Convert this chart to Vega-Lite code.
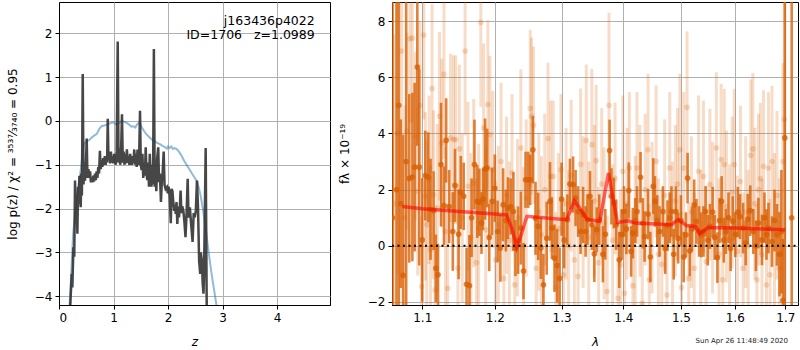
{
"$schema": "https://vega.github.io/schema/vega-lite/v6.json",
"padding": {"left": 5, "top": 1, "right": 2, "bottom": 0},
"spacing": 6,
"config": {
  "font": "DejaVu Sans",
  "view": {"stroke": "black", "strokeWidth": 1},
  "axis": {"labelFont": "DejaVu Sans", "labelFontSize": 12, "labelColor": "black", "tickColor": "black", "tickSize": 4, "domainColor": "black", "gridColor": "#b0b0b0", "gridWidth": 1, "titleFont": "DejaVu Sans", "titleFontSize": 12, "titleFontWeight": "normal", "titleColor": "black", "labelPadding": 3},
  "axisX": {"titlePadding": 13}
},
"datasets": {
  "pz": [{"z":0.2,"p":-4.4},{"z":0.233,"p":-3.49},{"z":0.245,"p":-3.8},{"z":0.264,"p":-2.88},{"z":0.28,"p":-3.1},{"z":0.294,"p":-1.36},{"z":0.31,"p":-2.1},{"z":0.322,"p":-1.8},{"z":0.337,"p":-2.57},{"z":0.35,"p":-1.5},{"z":0.362,"p":-1.9},{"z":0.374,"p":-1.25},{"z":0.386,"p":-1.6},{"z":0.398,"p":-1.97},{"z":0.41,"p":-1.2},{"z":0.42,"p":-1.7},{"z":0.435,"p":1.07},{"z":0.45,"p":-1.45},{"z":0.462,"p":-0.95},{"z":0.477,"p":-1.36},{"z":0.493,"p":-1.0},{"z":0.508,"p":-0.4},{"z":0.522,"p":-1.3},{"z":0.54,"p":-1.1},{"z":0.555,"p":-1.3},{"z":0.57,"p":-1.15},{"z":0.585,"p":-1.4},{"z":0.6,"p":-1.3},{"z":0.615,"p":-1.4},{"z":0.63,"p":-1.25},{"z":0.645,"p":-1.38},{"z":0.66,"p":-1.2},{"z":0.675,"p":-1.35},{"z":0.69,"p":-1.15},{"z":0.705,"p":-1.3},{"z":0.72,"p":-1.05},{"z":0.735,"p":-1.2},{"z":0.75,"p":-0.68},{"z":0.765,"p":-1.1},{"z":0.78,"p":-0.9},{"z":0.795,"p":-1.05},{"z":0.81,"p":-0.85},{"z":0.825,"p":-1.0},{"z":0.84,"p":-0.8},{"z":0.855,"p":-1.0},{"z":0.87,"p":-0.8},{"z":0.882,"p":-0.95},{"z":0.894,"p":0.05},{"z":0.908,"p":-0.9},{"z":0.922,"p":-0.75},{"z":0.937,"p":-0.97},{"z":0.952,"p":-0.7},{"z":0.967,"p":-0.95},{"z":0.982,"p":-0.8},{"z":0.997,"p":-0.97},{"z":1.012,"p":-0.75},{"z":1.027,"p":-0.92},{"z":1.042,"p":-1.0},{"z":1.057,"p":-0.7},{"z":1.077,"p":1.81},{"z":1.092,"p":-0.95},{"z":1.107,"p":-0.62},{"z":1.122,"p":-1.0},{"z":1.137,"p":-0.75},{"z":1.155,"p":0.15},{"z":1.17,"p":-0.95},{"z":1.185,"p":-0.7},{"z":1.2,"p":-1.0},{"z":1.215,"p":-0.75},{"z":1.23,"p":-0.97},{"z":1.245,"p":-0.65},{"z":1.26,"p":-0.95},{"z":1.275,"p":-0.8},{"z":1.29,"p":-1.0},{"z":1.305,"p":-0.75},{"z":1.32,"p":-0.92},{"z":1.335,"p":-1.0},{"z":1.35,"p":-0.8},{"z":1.365,"p":-0.97},{"z":1.38,"p":-0.65},{"z":1.395,"p":-1.0},{"z":1.41,"p":-0.75},{"z":1.425,"p":-1.05},{"z":1.44,"p":-0.65},{"z":1.455,"p":-1.0},{"z":1.47,"p":-0.8},{"z":1.486,"p":0.23},{"z":1.5,"p":-1.0},{"z":1.515,"p":-1.12},{"z":1.53,"p":-0.75},{"z":1.545,"p":-1.3},{"z":1.56,"p":-1.0},{"z":1.575,"p":-1.25},{"z":1.59,"p":-0.6},{"z":1.605,"p":-1.2},{"z":1.62,"p":-1.35},{"z":1.635,"p":-0.95},{"z":1.65,"p":-1.5},{"z":1.665,"p":-0.75},{"z":1.68,"p":-1.2},{"z":1.695,"p":-1.5},{"z":1.71,"p":-1.0},{"z":1.725,"p":-1.45},{"z":1.74,"p":1.64},{"z":1.755,"p":-1.5},{"z":1.77,"p":-1.05},{"z":1.785,"p":-1.6},{"z":1.8,"p":-0.85},{"z":1.82,"p":-0.6},{"z":1.835,"p":-1.4},{"z":1.85,"p":-1.2},{"z":1.87,"p":-1.85},{"z":1.885,"p":-1.4},{"z":1.9,"p":-1.2},{"z":1.92,"p":-0.7},{"z":1.935,"p":-1.45},{"z":1.955,"p":-1.55},{"z":1.98,"p":-1.51},{"z":1.995,"p":-1.65},{"z":2.01,"p":-1.5},{"z":2.03,"p":-1.7},{"z":2.05,"p":-2.33},{"z":2.065,"p":-1.55},{"z":2.08,"p":-1.6},{"z":2.1,"p":-1.9},{"z":2.115,"p":-2.05},{"z":2.13,"p":-1.95},{"z":2.14,"p":-2.12},{"z":2.155,"p":-1.85},{"z":2.17,"p":-2.35},{"z":2.185,"p":-1.95},{"z":2.2,"p":-2.2},{"z":2.215,"p":-2.0},{"z":2.23,"p":-1.59},{"z":2.245,"p":-2.1},{"z":2.26,"p":-1.95},{"z":2.28,"p":-2.04},{"z":2.3,"p":-2.3},{"z":2.32,"p":-2.65},{"z":2.34,"p":-2.1},{"z":2.36,"p":-1.32},{"z":2.375,"p":-2.2},{"z":2.39,"p":-2.1},{"z":2.4,"p":-1.97},{"z":2.42,"p":-2.3},{"z":2.45,"p":-2.76},{"z":2.47,"p":-2.1},{"z":2.49,"p":-2.2},{"z":2.51,"p":-2.04},{"z":2.53,"p":-1.36},{"z":2.55,"p":-2.0},{"z":2.57,"p":-3.2},{"z":2.59,"p":-3.49},{"z":2.6,"p":-3.0},{"z":2.62,"p":-3.18},{"z":2.635,"p":-3.7},{"z":2.65,"p":-3.94},{"z":2.66,"p":-3.5},{"z":2.69,"p":-0.62},{"z":2.71,"p":-4.4}],
  "pzfit": [{"z":0.19,"p":-4.3},{"z":0.22,"p":-3.6},{"z":0.26,"p":-2.57},{"z":0.29,"p":-2.2},{"z":0.325,"p":-1.82},{"z":0.36,"p":-1.45},{"z":0.385,"p":-1.25},{"z":0.41,"p":-1.0},{"z":0.435,"p":-0.7},{"z":0.46,"p":-0.52},{"z":0.5,"p":-0.47},{"z":0.55,"p":-0.44},{"z":0.6,"p":-0.38},{"z":0.65,"p":-0.33},{"z":0.69,"p":-0.3},{"z":0.74,"p":-0.18},{"z":0.78,"p":-0.12},{"z":0.81,"p":-0.11},{"z":0.85,"p":-0.1},{"z":0.9,"p":-0.07},{"z":0.95,"p":-0.05},{"z":1.0,"p":-0.03},{"z":1.05,"p":-0.08},{"z":1.1,"p":-0.05},{"z":1.15,"p":0.0},{"z":1.2,"p":-0.02},{"z":1.25,"p":-0.05},{"z":1.3,"p":-0.1},{"z":1.33,"p":-0.13},{"z":1.37,"p":-0.12},{"z":1.4,"p":-0.15},{"z":1.43,"p":-0.08},{"z":1.46,"p":-0.05},{"z":1.49,"p":-0.07},{"z":1.52,"p":-0.15},{"z":1.56,"p":-0.23},{"z":1.6,"p":-0.3},{"z":1.65,"p":-0.36},{"z":1.7,"p":-0.42},{"z":1.75,"p":-0.46},{"z":1.8,"p":-0.5},{"z":1.85,"p":-0.53},{"z":1.9,"p":-0.57},{"z":1.95,"p":-0.6},{"z":1.98,"p":-0.63},{"z":2.0,"p":-0.58},{"z":2.03,"p":-0.62},{"z":2.06,"p":-0.58},{"z":2.09,"p":-0.64},{"z":2.12,"p":-0.62},{"z":2.16,"p":-0.64},{"z":2.2,"p":-0.7},{"z":2.25,"p":-0.8},{"z":2.3,"p":-0.92},{"z":2.35,"p":-1.02},{"z":2.4,"p":-1.12},{"z":2.45,"p":-1.22},{"z":2.5,"p":-1.32},{"z":2.53,"p":-1.38},{"z":2.56,"p":-1.5},{"z":2.6,"p":-1.72},{"z":2.65,"p":-2.1},{"z":2.7,"p":-2.55},{"z":2.75,"p":-3.05},{"z":2.8,"p":-3.5},{"z":2.85,"p":-3.9},{"z":2.9,"p":-4.3}],
  "ann": [{"z":4.69,"p":2.285,"t":"j163436p4022"},{"z":4.69,"p":1.966,"t":"ID=1706\u00a0\u00a0\u00a0z=1.0989"}],
  "dk": [{"l":1.0615,"f":1.0,"e":12},{"l":1.0665,"f":2.0,"e":12},{"l":1.0695,"f":5.0,"e":9},{"l":1.072,"f":1.5,"e":3},{"l":1.075,"f":-1.05,"e":5},{"l":1.079,"f":3.0,"e":12},{"l":1.083,"f":2.4,"e":3},{"l":1.087,"f":2.45,"e":3},{"l":1.09,"f":2.8,"e":3},{"l":1.0935,"f":6.36,"e":2.8},{"l":1.096,"f":2.8,"e":3.5},{"l":1.1,"f":0.21,"e":2.2},{"l":1.104,"f":2.5,"e":1.6},{"l":1.108,"f":2.44,"e":1.6},{"l":1.111,"f":1.3,"e":1.8},{"l":1.115,"f":1.25,"e":1.4},{"l":1.118,"f":-0.8,"e":1.2},{"l":1.121,"f":-1.03,"e":1.1},{"l":1.125,"f":2.89,"e":2.2},{"l":1.129,"f":1.43,"e":1.4},{"l":1.132,"f":3.75,"e":1.5},{"l":1.136,"f":1.4,"e":1.3},{"l":1.141,"f":0.51,"e":1.4},{"l":1.144,"f":2.15,"e":1.3},{"l":1.149,"f":0.41,"e":1.6},{"l":1.152,"f":1.9,"e":1.3},{"l":1.156,"f":1.76,"e":1.2},{"l":1.16,"f":-1.37,"e":1.3},{"l":1.164,"f":-1.42,"e":1.8},{"l":1.167,"f":1.0,"e":1.4},{"l":1.171,"f":2.89,"e":1.6},{"l":1.175,"f":1.58,"e":1.3},{"l":1.178,"f":1.55,"e":1.2},{"l":1.181,"f":0.81,"e":1.1},{"l":1.183,"f":1.66,"e":1.1},{"l":1.186,"f":2.73,"e":1.8},{"l":1.189,"f":2.77,"e":1.4},{"l":1.192,"f":0.3,"e":1.2},{"l":1.196,"f":1.58,"e":1.2},{"l":1.2,"f":2.05,"e":1.2},{"l":1.204,"f":0.51,"e":1.1},{"l":1.208,"f":-0.08,"e":1.2},{"l":1.212,"f":1.46,"e":1.3},{"l":1.216,"f":0.9,"e":1.1},{"l":1.219,"f":1.34,"e":1.1},{"l":1.223,"f":1.4,"e":1.0},{"l":1.227,"f":1.22,"e":1.4},{"l":1.23,"f":-0.08,"e":1.0},{"l":1.234,"f":0.2,"e":1.2},{"l":1.238,"f":0.63,"e":1.3},{"l":1.242,"f":-0.9,"e":1.0},{"l":1.245,"f":2.35,"e":1.0},{"l":1.249,"f":2.35,"e":1.0},{"l":1.252,"f":2.35,"e":0.9},{"l":1.256,"f":3.42,"e":1.2},{"l":1.26,"f":0.98,"e":1.3},{"l":1.264,"f":0.69,"e":1.2},{"l":1.268,"f":-0.08,"e":1.1},{"l":1.272,"f":-1.39,"e":1.1},{"l":1.277,"f":0.27,"e":1.3},{"l":1.282,"f":1.58,"e":1.4},{"l":1.285,"f":0.63,"e":1.1},{"l":1.289,"f":-0.44,"e":1.2},{"l":1.293,"f":-0.7,"e":1.3},{"l":1.297,"f":-1.16,"e":1.1},{"l":1.3,"f":1.66,"e":1.3},{"l":1.304,"f":0.2,"e":1.0},{"l":1.309,"f":0.93,"e":0.9},{"l":1.313,"f":2.2,"e":0.9},{"l":1.318,"f":2.18,"e":1.0},{"l":1.322,"f":1.7,"e":1.0},{"l":1.326,"f":1.22,"e":0.9},{"l":1.33,"f":0.51,"e":0.8},{"l":1.334,"f":1.1,"e":1.0},{"l":1.338,"f":0.51,"e":0.9},{"l":1.341,"f":0.93,"e":0.9},{"l":1.345,"f":1.76,"e":0.9},{"l":1.348,"f":0.75,"e":0.9},{"l":1.352,"f":-0.29,"e":1.0},{"l":1.356,"f":0.57,"e":0.8},{"l":1.36,"f":0.93,"e":0.9},{"l":1.366,"f":-0.3,"e":1.0},{"l":1.37,"f":0.41,"e":0.9},{"l":1.377,"f":3.39,"e":1.1},{"l":1.38,"f":1.76,"e":1.0},{"l":1.384,"f":1.52,"e":0.9},{"l":1.388,"f":0.75,"e":0.9},{"l":1.393,"f":-0.5,"e":1.0},{"l":1.397,"f":0.4,"e":0.9},{"l":1.401,"f":1.22,"e":0.9},{"l":1.405,"f":0.6,"e":0.9},{"l":1.409,"f":1.97,"e":1.0},{"l":1.413,"f":-0.2,"e":0.9},{"l":1.416,"f":0.45,"e":0.9},{"l":1.42,"f":0.9,"e":0.8},{"l":1.423,"f":1.22,"e":0.9},{"l":1.429,"f":2.44,"e":0.9},{"l":1.433,"f":0.8,"e":0.9},{"l":1.436,"f":0.33,"e":0.9},{"l":1.442,"f":1.13,"e":0.9},{"l":1.446,"f":-0.4,"e":0.9},{"l":1.451,"f":2.12,"e":1.0},{"l":1.454,"f":1.58,"e":0.9},{"l":1.458,"f":0.9,"e":0.9},{"l":1.462,"f":0.51,"e":0.9},{"l":1.468,"f":1.22,"e":0.9},{"l":1.472,"f":-0.1,"e":0.9},{"l":1.476,"f":0.72,"e":0.9},{"l":1.48,"f":1.0,"e":0.9},{"l":1.483,"f":1.22,"e":0.9},{"l":1.487,"f":-0.3,"e":0.9},{"l":1.491,"f":1.22,"e":0.9},{"l":1.495,"f":0.27,"e":0.9},{"l":1.5,"f":0.9,"e":0.9},{"l":1.505,"f":-0.4,"e":0.9},{"l":1.509,"f":0.39,"e":0.8},{"l":1.512,"f":2.41,"e":0.9},{"l":1.516,"f":-0.18,"e":0.9},{"l":1.52,"f":0.6,"e":0.8},{"l":1.524,"f":1.46,"e":0.9},{"l":1.528,"f":0.87,"e":0.8},{"l":1.533,"f":0.51,"e":0.9},{"l":1.537,"f":0.39,"e":0.8},{"l":1.541,"f":0.51,"e":0.9},{"l":1.545,"f":1.22,"e":0.9},{"l":1.549,"f":0.2,"e":0.9},{"l":1.553,"f":0.69,"e":0.8},{"l":1.558,"f":1.2,"e":0.9},{"l":1.562,"f":0.3,"e":0.8},{"l":1.567,"f":-0.42,"e":0.9},{"l":1.571,"f":0.9,"e":0.8},{"l":1.575,"f":1.58,"e":0.9},{"l":1.579,"f":0.2,"e":0.8},{"l":1.583,"f":0.51,"e":0.8},{"l":1.588,"f":1.0,"e":0.9},{"l":1.592,"f":-0.1,"e":0.8},{"l":1.596,"f":0.87,"e":0.9},{"l":1.601,"f":0.4,"e":0.8},{"l":1.606,"f":1.2,"e":0.9},{"l":1.61,"f":1.04,"e":0.8},{"l":1.616,"f":0.63,"e":0.9},{"l":1.621,"f":0.1,"e":0.8},{"l":1.625,"f":0.95,"e":0.9},{"l":1.63,"f":1.25,"e":0.9},{"l":1.636,"f":0.51,"e":0.8},{"l":1.641,"f":0.0,"e":0.9},{"l":1.646,"f":0.81,"e":0.9},{"l":1.653,"f":0.21,"e":0.9},{"l":1.658,"f":1.0,"e":0.9},{"l":1.662,"f":0.4,"e":0.9},{"l":1.666,"f":0.63,"e":0.9},{"l":1.673,"f":0.15,"e":0.9},{"l":1.678,"f":0.9,"e":1.1},{"l":1.683,"f":0.39,"e":1.1},{"l":1.688,"f":-0.3,"e":1.5},{"l":1.692,"f":0.5,"e":2.2},{"l":1.695,"f":-1.95,"e":2.2},{"l":1.699,"f":3.84,"e":10},{"l":1.713,"f":1.0,"e":12}],
  "lt": [{"l":1.063,"f":1.5,"e":6},{"l":1.068,"f":4.0,"e":5},{"l":1.073,"f":6.93,"e":3},{"l":1.077,"f":1.0,"e":4},{"l":1.08,"f":4.08,"e":3.5},{"l":1.084,"f":7.37,"e":3},{"l":1.087,"f":7.4,"e":3},{"l":1.091,"f":3.9,"e":3},{"l":1.094,"f":1.94,"e":3},{"l":1.097,"f":5.0,"e":3},{"l":1.099,"f":-1.45,"e":2.5},{"l":1.102,"f":7.5,"e":3},{"l":1.104,"f":1.76,"e":3},{"l":1.106,"f":0.75,"e":3},{"l":1.109,"f":2.35,"e":3},{"l":1.111,"f":-0.14,"e":3},{"l":1.113,"f":5.6,"e":3},{"l":1.115,"f":1.82,"e":3},{"l":1.117,"f":-1.57,"e":3},{"l":1.12,"f":1.34,"e":3},{"l":1.123,"f":4.61,"e":3},{"l":1.126,"f":3.66,"e":3},{"l":1.129,"f":6.1,"e":3},{"l":1.131,"f":0.51,"e":3},{"l":1.134,"f":-1.51,"e":3},{"l":1.138,"f":3.84,"e":3},{"l":1.142,"f":3.78,"e":3},{"l":1.145,"f":3.78,"e":3},{"l":1.148,"f":-0.8,"e":3},{"l":1.15,"f":3.45,"e":3},{"l":1.154,"f":1.0,"e":3},{"l":1.158,"f":6.93,"e":3},{"l":1.162,"f":2.12,"e":3},{"l":1.166,"f":0.3,"e":3},{"l":1.17,"f":2.23,"e":3},{"l":1.174,"f":-0.6,"e":3},{"l":1.177,"f":0.63,"e":3},{"l":1.18,"f":7.95,"e":3},{"l":1.184,"f":4.2,"e":3},{"l":1.187,"f":0.57,"e":3},{"l":1.19,"f":5.03,"e":3},{"l":1.193,"f":3.96,"e":2.8},{"l":1.197,"f":2.71,"e":2.8},{"l":1.201,"f":-0.5,"e":2.8},{"l":1.205,"f":0.75,"e":2.8},{"l":1.209,"f":3.0,"e":2.8},{"l":1.213,"f":-1.16,"e":2.8},{"l":1.217,"f":1.8,"e":2.8},{"l":1.221,"f":0.2,"e":2.8},{"l":1.225,"f":2.6,"e":2.8},{"l":1.229,"f":-1.39,"e":2.8},{"l":1.233,"f":1.0,"e":2.8},{"l":1.238,"f":3.48,"e":2.8},{"l":1.242,"f":0.0,"e":2.8},{"l":1.246,"f":1.7,"e":2.8},{"l":1.252,"f":4.89,"e":2.8},{"l":1.254,"f":4.61,"e":2.8},{"l":1.257,"f":4.29,"e":2.8},{"l":1.261,"f":-0.8,"e":2.8},{"l":1.265,"f":1.2,"e":2.8},{"l":1.269,"f":0.39,"e":2.8},{"l":1.274,"f":2.0,"e":2.7},{"l":1.279,"f":3.82,"e":2.7},{"l":1.283,"f":2.47,"e":2.7},{"l":1.287,"f":2.47,"e":2.7},{"l":1.291,"f":-1.5,"e":2.7},{"l":1.295,"f":0.6,"e":2.7},{"l":1.299,"f":2.7,"e":2.7},{"l":1.303,"f":-1.03,"e":2.7},{"l":1.307,"f":1.5,"e":2.7},{"l":1.311,"f":0.0,"e":2.7},{"l":1.315,"f":2.5,"e":2.7},{"l":1.32,"f":-0.5,"e":2.7},{"l":1.326,"f":-1.09,"e":2.7},{"l":1.33,"f":2.9,"e":2.7},{"l":1.334,"f":1.2,"e":2.7},{"l":1.339,"f":3.75,"e":2.7},{"l":1.343,"f":0.3,"e":2.7},{"l":1.348,"f":3.6,"e":2.7},{"l":1.352,"f":1.6,"e":2.7},{"l":1.355,"f":3.03,"e":2.7},{"l":1.359,"f":-0.6,"e":2.7},{"l":1.364,"f":2.2,"e":2.7},{"l":1.368,"f":0.8,"e":2.7},{"l":1.373,"f":-1.63,"e":2.7},{"l":1.376,"f":5.0,"e":3.3},{"l":1.382,"f":0.2,"e":2.7},{"l":1.386,"f":2.4,"e":2.7},{"l":1.391,"f":-1.87,"e":2.7},{"l":1.395,"f":-0.68,"e":2.7},{"l":1.399,"f":2.65,"e":2.7},{"l":1.402,"f":-1.69,"e":2.7},{"l":1.406,"f":1.5,"e":2.7},{"l":1.41,"f":2.77,"e":2.7},{"l":1.416,"f":-1.42,"e":2.7},{"l":1.42,"f":0.5,"e":2.7},{"l":1.423,"f":2.77,"e":2.7},{"l":1.428,"f":1.6,"e":2.7},{"l":1.432,"f":-2.05,"e":2.7},{"l":1.437,"f":2.0,"e":2.7},{"l":1.442,"f":3.42,"e":2.7},{"l":1.444,"f":-1.21,"e":2.7},{"l":1.449,"f":1.0,"e":2.7},{"l":1.456,"f":3.01,"e":2.7},{"l":1.46,"f":-0.3,"e":2.7},{"l":1.466,"f":-0.66,"e":2.7},{"l":1.471,"f":1.8,"e":2.7},{"l":1.475,"f":-1.75,"e":2.7},{"l":1.48,"f":2.77,"e":2.7},{"l":1.485,"f":0.3,"e":2.7},{"l":1.49,"f":1.6,"e":2.7},{"l":1.494,"f":2.2,"e":2.7},{"l":1.498,"f":3.42,"e":2.7},{"l":1.501,"f":-1.49,"e":2.7},{"l":1.505,"f":2.77,"e":2.7},{"l":1.511,"f":4.93,"e":2.7},{"l":1.514,"f":-1.16,"e":2.7},{"l":1.519,"f":1.2,"e":2.7},{"l":1.524,"f":-0.8,"e":2.7},{"l":1.532,"f":2.65,"e":2.7},{"l":1.536,"f":0.0,"e":2.7},{"l":1.541,"f":2.47,"e":2.7},{"l":1.546,"f":-0.56,"e":2.7},{"l":1.553,"f":2.18,"e":2.7},{"l":1.558,"f":1.0,"e":2.7},{"l":1.565,"f":3.48,"e":2.7},{"l":1.57,"f":-0.3,"e":2.7},{"l":1.574,"f":3.07,"e":2.7},{"l":1.577,"f":-1.21,"e":2.7},{"l":1.58,"f":2.89,"e":2.7},{"l":1.584,"f":1.4,"e":2.7},{"l":1.59,"f":0.2,"e":2.7},{"l":1.595,"f":1.9,"e":2.7},{"l":1.599,"f":2.89,"e":2.7},{"l":1.605,"f":-0.2,"e":2.7},{"l":1.611,"f":2.29,"e":2.7},{"l":1.616,"f":-0.8,"e":2.7},{"l":1.621,"f":1.2,"e":2.7},{"l":1.626,"f":0.0,"e":2.7},{"l":1.631,"f":3.22,"e":2.7},{"l":1.635,"f":3.45,"e":2.7},{"l":1.639,"f":1.5,"e":2.7},{"l":1.643,"f":-1.21,"e":2.7},{"l":1.646,"f":2.0,"e":2.7},{"l":1.65,"f":2.39,"e":2.7},{"l":1.653,"f":-0.32,"e":2.7},{"l":1.656,"f":2.83,"e":2.7},{"l":1.662,"f":-1.39,"e":2.7},{"l":1.666,"f":2.77,"e":2.7},{"l":1.669,"f":-1.03,"e":2.7},{"l":1.673,"f":3.0,"e":2.7},{"l":1.678,"f":0.5,"e":2.8},{"l":1.683,"f":1.8,"e":3.0},{"l":1.688,"f":-0.8,"e":3.2},{"l":1.695,"f":3.0,"e":3.5},{"l":1.698,"f":4.5,"e":4.5}],
  "model": [{"l":1.074,"f":1.4},{"l":1.1,"f":1.32},{"l":1.15,"f":1.22},{"l":1.2,"f":1.13},{"l":1.217,"f":1.1},{"l":1.225,"f":0.6},{"l":1.232,"f":-0.05},{"l":1.24,"f":0.5},{"l":1.247,"f":1.05},{"l":1.28,"f":0.98},{"l":1.308,"f":0.93},{"l":1.32,"f":1.6},{"l":1.33,"f":1.3},{"l":1.34,"f":0.95},{"l":1.361,"f":0.87},{"l":1.375,"f":2.59},{"l":1.39,"f":0.83},{"l":1.408,"f":0.89},{"l":1.42,"f":0.81},{"l":1.483,"f":0.75},{"l":1.495,"f":0.93},{"l":1.51,"f":0.72},{"l":1.527,"f":0.69},{"l":1.534,"f":0.43},{"l":1.55,"f":0.65},{"l":1.6,"f":0.63},{"l":1.7,"f":0.57}],
  "zero": [{"l":1.0608,"f":0},{"l":1.726,"f":0}],
  "stamp": [{"l":1.7055,"f":-3.38,"t":"Sun Apr 26 11:48:49 2020"}]
},
"hconcat": [
  {
    "width": 271, "height": 303,
    "encoding": {
      "x": {"field": "z", "type": "quantitative", "scale": {"domain": [0, 4.97], "nice": false, "zero": false}, "axis": {"values": [0,1,2,3,4], "title": "z", "titleFontStyle": "italic"}},
      "y": {"field": "p", "type": "quantitative", "scale": {"domain": [-4.198, 2.713], "nice": false, "zero": false}, "axis": {"values": [-4,-3,-2,-1,0,1,2], "title": "log p(z) / χ² = ³⁵³⁷⁄₃₇₄₀ = 0.95", "titlePadding": 15}}
    },
    "layer": [
      {"data": {"name": "pzfit"}, "mark": {"type": "line", "clip": true, "color": "#1f77b4", "opacity": 0.5, "strokeWidth": 2}},
      {"data": {"name": "pz"}, "mark": {"type": "line", "clip": true, "color": "#333333", "opacity": 0.9, "strokeWidth": 2.5}},
      {"data": {"name": "ann"}, "mark": {"type": "text", "align": "right", "baseline": "middle", "fontSize": 12.5, "color": "black"},
       "encoding": {"text": {"field": "t"}}}
    ]
  },
  {
    "width": 406, "height": 303,
    "encoding": {
      "x": {"field": "l", "type": "quantitative", "scale": {"type": "log", "domain": [1.0608, 1.726], "nice": false}, "axis": {"values": [1.1,1.2,1.3,1.4,1.5,1.6,1.7], "format": ".1f", "title": "λ", "titleFontStyle": "italic"}},
      "y": {"field": "f", "type": "quantitative", "scale": {"domain": [-2.107, 8.678], "nice": false, "zero": false}, "axis": {"values": [-2,0,2,4,6,8], "title": "fλ × 10⁻¹⁹", "titlePadding": 16}}
    },
    "layer": [
      {"data": {"name": "lt"}, "mark": {"type": "errorbar", "clip": true, "thickness": 3, "color": "#d95f02", "opacity": 0.22},
       "encoding": {"yError": {"field": "e"}}},
      {"data": {"name": "lt"}, "mark": {"type": "circle", "clip": true, "size": 32, "color": "#d95f02", "opacity": 0.22}},
      {"data": {"name": "dk"}, "mark": {"type": "errorbar", "clip": true, "thickness": 2.6, "color": "#d95f02", "opacity": 0.78},
       "encoding": {"yError": {"field": "e"}}},
      {"data": {"name": "dk"}, "mark": {"type": "circle", "clip": true, "size": 32, "color": "#d95f02", "opacity": 0.78}},
      {"data": {"name": "model"}, "mark": {"type": "line", "clip": true, "color": "red", "opacity": 0.6, "strokeWidth": 3.5}},
      {"data": {"name": "zero"}, "mark": {"type": "line", "clip": true, "color": "black", "strokeWidth": 2, "strokeDash": [2, 3.5]}},
      {"data": {"name": "stamp"}, "mark": {"type": "text", "align": "right", "baseline": "middle", "fontSize": 7, "color": "#222222"},
       "encoding": {"text": {"field": "t"}}}
    ]
  }
]
}
